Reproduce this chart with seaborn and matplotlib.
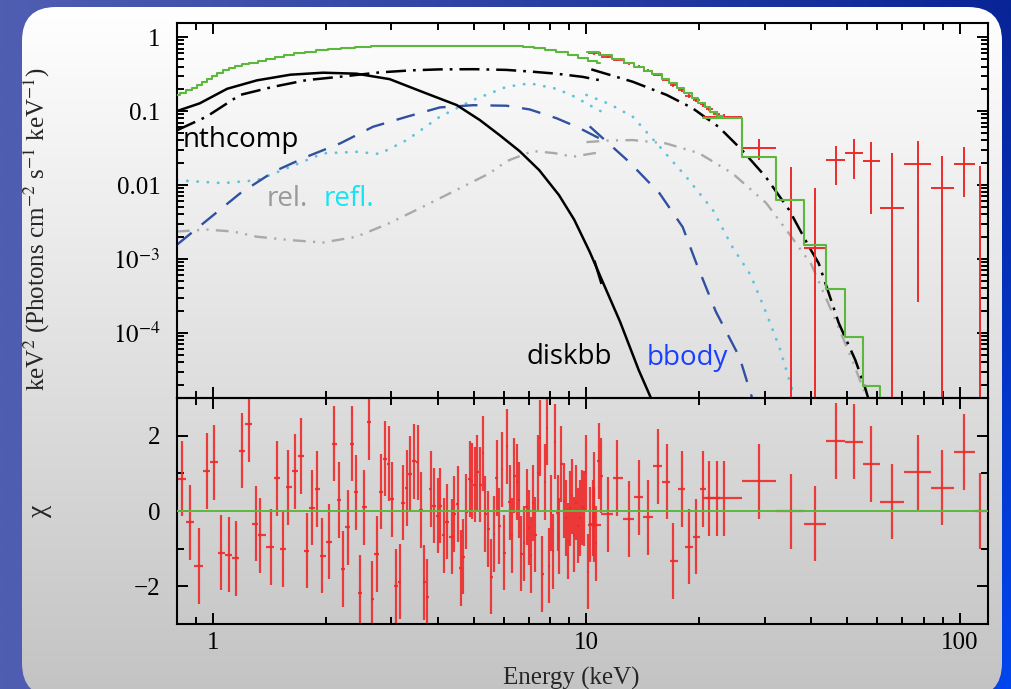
import numpy as np
import pandas as pd
import matplotlib
matplotlib.use("Agg")
import matplotlib.pyplot as plt
import seaborn as sns
from matplotlib.patches import FancyBboxPatch
from matplotlib.ticker import FixedLocator, FixedFormatter, LogLocator, MultipleLocator, NullFormatter

# ---------------- model components (E in keV, E^2 F) ----------------
nth1_e = [0.80, 0.96, 1.18, 1.45, 1.78, 2.19, 2.79, 3.4, 4.05, 5.0, 6.1, 7.18, 8.3, 9.76, 10.9]
nth1_v = [0.055, 0.084, 0.165, 0.213, 0.262, 0.291, 0.333, 0.355, 0.366, 0.368, 0.36, 0.34, 0.32, 0.29, 0.26]
nth2_e = [10.3, 13.3, 16.4, 19.2, 22.6, 26.1, 30.2, 34.9, 39.5, 41.9, 47.4, 52.5, 55.8, 58.5]
nth2_v = [0.366, 0.249, 0.165, 0.11, 0.061, 0.0296, 0.0129, 0.0046, 1.45e-3, 8.7e-4, 1.36e-4, 4.3e-5, 1.8e-5, 8e-6]

disk_e = [0.80, 0.92, 1.09, 1.31, 1.61, 1.97, 2.42, 2.97, 3.65, 4.49, 5.18, 5.85, 6.62, 7.47, 8.44, 9.27,
          10.2, 11.2, 12.3, 13.8, 14.9]
disk_v = [0.10, 0.127, 0.20, 0.26, 0.31, 0.33, 0.32, 0.27, 0.18, 0.1205, 0.0755, 0.0473, 0.0287, 0.0159,
          7.3e-3, 3.4e-3, 1.25e-3, 4.2e-4, 1.42e-4, 3.15e-5, 1.3e-5]
disk2_e = [10.5, 10.97]
disk2_v = [9.5e-4, 4.6e-4]

bb1_e = [0.80, 0.96, 1.18, 1.45, 1.78, 2.19, 2.68, 3.30, 4.05, 4.97, 6.11, 7.05, 8.31, 9.5, 10.9]
bb1_v = [1.56e-3, 3.3e-3, 7.7e-3, 0.0151, 0.0241, 0.0366, 0.0613, 0.0837, 0.112, 0.12, 0.118, 0.105, 0.08, 0.06, 0.042]
bb2_e = [10.2, 13.0, 15.7, 18.1, 19.7, 22.2, 25.7, 27.8]
bb2_v = [0.062, 0.0206, 7.7e-3, 2.7e-3, 8.7e-4, 1.95e-4, 4.7e-5, 1.3e-5]

refl1_e = [0.80, 1.06, 1.31, 1.61, 1.97, 2.42, 2.79, 3.30, 4.05, 4.97, 6.11, 7.05, 8.31, 9.2, 10.2, 10.9]
refl1_v = [0.0116, 0.0106, 0.0116, 0.0176, 0.0268, 0.0281, 0.0263, 0.0405, 0.084, 0.141, 0.213, 0.237, 0.20, 0.16, 0.12, 0.10]
refl2_e = [10.0, 11.5, 13.3, 15.7, 18.5, 21.8, 24.6, 27.5, 30.2, 32.9, 36.0]
refl2_v = [0.165, 0.125, 0.084, 0.033, 0.0129, 4.6e-3, 1.45e-3, 6.1e-4, 1.95e-4, 6.3e-5, 1.4e-5]

rel1_e = [0.80, 0.96, 1.13, 1.31, 1.61, 1.97, 2.42, 2.97, 3.65, 4.49, 5.5, 6.11, 7.18, 8.2, 9.2, 10.5, 10.9]
rel1_v = [2.35e-3, 2.5e-3, 2.35e-3, 2.0e-3, 1.8e-3, 1.67e-3, 2.0e-3, 3.06e-3, 5.1e-3, 8.6e-3, 0.0144, 0.021, 0.0288, 0.027, 0.0241, 0.027, 0.026]
rel2_e = [10.0, 11.5, 13.3, 16.3, 20.0, 24.6, 30.3, 34.9, 40.0, 45.6, 51.5, 55.8, 58.0]
rel2_v = [0.038, 0.040, 0.0405, 0.0366, 0.027, 0.0144, 5.7e-3, 2.2e-3, 8.5e-4, 1.85e-4, 4.3e-5, 1.5e-5, 8e-6]

# ---------------- total model (steps) ----------------
tot1_e = [0.80, 0.83, 0.86, 0.89, 0.92, 0.95, 0.98, 1.01, 1.04, 1.08, 1.12, 1.17, 1.22, 1.28, 1.35, 1.42,
          1.50, 1.60, 1.70, 1.82, 1.95, 2.1, 2.3, 2.5, 2.8, 3.2, 3.7, 4.3, 5.0, 5.8, 6.5, 7.0, 7.5, 8.0,
          8.6, 9.2, 9.8, 10.4, 10.9]
tot1_v = [0.165, 0.175, 0.19, 0.205, 0.225, 0.245, 0.27, 0.30, 0.33, 0.36, 0.385, 0.41, 0.43, 0.45, 0.47, 0.50,
          0.53, 0.57, 0.60, 0.63, 0.66, 0.69, 0.72, 0.74, 0.75, 0.755, 0.76, 0.76, 0.76, 0.76, 0.76, 0.74, 0.71, 0.665,
          0.62, 0.57, 0.52, 0.47, 0.44]
tot2_edges = [10.06, 10.8, 11.7, 12.6, 13.4, 14.3, 15.0, 15.9, 16.6, 17.5, 18.3, 19.2, 19.9, 20.8, 21.4, 22.3, 23.2]
tot2_v = [0.627, 0.57, 0.50, 0.45, 0.397, 0.35, 0.313, 0.268, 0.237, 0.203, 0.174, 0.148, 0.127, 0.112, 0.098, 0.085]
tot3_edges = [20.5, 26.1, 32.2, 38.2, 43.7, 49.2, 55.0, 61.2, 70.5]
tot3_v = [0.081, 0.024, 0.0063, 0.00155, 3.9e-4, 8.9e-5, 1.9e-5, 1e-7]

# ---------------- data: instrument 2 ----------------
d2_e = [10.5, 11.4, 12.1, 13.0, 13.8, 14.6, 15.5, 16.4, 17.1, 18.0, 18.8, 19.7, 20.5, 21.3, 22.3]
d2_flux = [0.60, 0.54, 0.49, 0.44, 0.40, 0.35, 0.31, 0.265, 0.225, 0.19, 0.16, 0.14, 0.123, 0.108, 0.092]
d2_ferr = [0.02, 0.02, 0.02, 0.018, 0.016, 0.015, 0.014, 0.012, 0.011, 0.01, 0.009, 0.008, 0.008, 0.007, 0.007]
d2_chi = [-0.36, -0.09, 0.88, -0.21, 0.36, -0.17, 1.19, 0.78, -1.33, 0.58, -0.95, -0.68, 0.58, 0.34, 0.34]

# ---------------- data: instrument 3 (wide bins) ----------------
d3_lo = [20.5, 26.1, 32.2, 38.2, 43.7, 49.2, 55.0, 61.2, 71.0, 83.6, 96.2, 110.0]
d3_hi = [26.1, 32.2, 38.2, 43.7, 49.2, 55.0, 61.2, 71.0, 83.6, 96.2, 110.0, 125.0]
d3_e = [23.3, 29.0, 35.2, 41.0, 46.5, 52.2, 58.0, 65.8, 77.2, 89.6, 102.5, 113.0]
d3_flux = [0.084, 0.0316, 0.0063, 0.0014, 0.0216, 0.0272, 0.0211, 0.0049, 0.0192, 0.0091, 0.0192, 2e-6]
d3_flo = [0.077, 0.0216, 1e-7, 1e-7, 0.010, 0.0121, 0.0041, 1e-7, 2.6e-4, 1e-7, 6.9e-3, 1e-7]
d3_fhi = [0.091, 0.0418, 0.0175, 0.0091, 0.0336, 0.0418, 0.038, 0.0271, 0.0394, 0.0247, 0.0326, 0.0182]
d3_chi = [0.34, 0.79, -0.01, -0.34, 1.86, 1.84, 1.25, 0.25, 1.03, 0.62, 1.57, 0.0]

# ---------------- residuals: instrument 1 ----------------
r1_e = [0.825, 0.868, 0.914, 0.96, 1.006, 1.05, 1.10, 1.15, 1.195, 1.246, 1.30, 1.336, 1.43, 1.48, 1.535,
        1.59, 1.66, 1.72, 1.78, 1.84, 1.90, 1.96, 2.04, 2.11, 2.17, 2.23, 2.29, 2.35, 2.42, 2.48, 2.54,
        2.61, 2.67, 2.74, 2.81, 2.88, 2.95, 3.01, 3.09, 3.16, 3.23, 3.30, 3.37, 3.45, 3.53, 3.60, 3.68,
        3.75, 3.83, 3.90, 3.99, 4.06, 4.14, 4.22, 4.35, 4.42, 4.52, 4.61, 4.66, 4.77, 4.86, 4.93, 5.02,
        5.10, 5.19, 5.29, 5.36, 5.46, 5.56, 5.65, 5.75, 5.84, 5.93, 6.03, 6.12, 6.22, 6.31, 6.41, 6.50,
        6.60, 6.69, 6.79, 6.91, 7.01, 7.11, 7.21, 7.30, 7.42, 7.51, 7.62, 7.73, 7.84, 7.95, 8.02, 8.14,
        8.25, 8.37, 8.45, 8.57, 8.72, 8.82, 8.93, 9.05, 9.14, 9.27, 9.39, 9.51, 9.63, 9.75, 9.87, 10.0,
        10.1, 10.25, 10.38, 10.49, 10.6, 10.77, 10.95]
r1_chi = [0.86, -0.30, -1.46, 1.06, 1.29, -1.11, -1.16, -1.26, 1.60, 2.30, -0.34, -0.65, -0.96, 0.87, -1.01,
          0.63, 1.05, 1.46, -1.05, 0.09, 0.58, -1.19, -0.81, 1.79, 0.29, -1.54, -0.43, 1.79, 0.50, -2.17, 0.10,
          2.36, -2.34, -1.14, 0.51, 1.39, 1.26, 0.31, -2.00, -1.88, 0.22, 0.61, 0.99, 1.32, 1.29, 0.03, -1.89,
          -2.27, 0.58, 0.14, -0.12, 0.14, -0.65, -0.28, -0.68, -0.08, 0.19, -1.51, -1.21, -0.02, 0.85, 0.80, 0.70,
          1.03, 0.70, 1.53, -0.08, -0.48, -1.74, -0.61, 0.88, -0.40, 1.11, -1.11, 1.72, 0.23, -0.65, 0.94, 0.77,
          0.29, -1.13, -0.86, 0.11, -0.44, -1.17, 0.21, -0.63, 1.02, 1.94, -1.67, 0.77, 2.21, -1.45, -0.05, -1.07,
          1.84, -0.05, -0.66, 1.25, 0.27, -0.19, -0.80, 0.07, 0.39, -0.63, 0.22, -0.39, -0.19, 0.10, 0.07, 1.03,
          -1.61, -0.35, -0.19, 0.57, -0.86, 1.33, 0.94]

# ---------------- axis tick labels ----------------
ylog_ticks = [1e-4, 1e-3, 1e-2, 0.1, 1]
ylog_labels = [r'$10^{-4}$', r'$10^{-3}$', '0.01', '0.1', '1']
x_ticks = [1, 10, 100]
x_labels = ['1', '10', '100']
chi_ticks = [-2, 0, 2]
chi_labels = ['\u22122', '0', '2']

RED = '#ee2a2a'
GREEN = '#5cb83c'

def edges_from_centers(e):
    e = np.asarray(e, float)
    mids = np.sqrt(e[:-1] * e[1:])
    lo = np.concatenate([[e[0] ** 2 / mids[0]], mids])
    hi = np.concatenate([mids, [e[-1] ** 2 / mids[-1]]])
    return lo, hi

sns.set_theme(style="ticks")
plt.rcParams['font.family'] = ['Liberation Serif', 'DejaVu Serif']
plt.rcParams['mathtext.fontset'] = 'stix'
plt.rcParams['axes.unicode_minus'] = True

W, H = 1011, 689
fig = plt.figure(figsize=(W / 100, H / 100), dpi=100)

# ---------------- background ----------------
bg = fig.add_axes([0, 0, 1, 1], zorder=-10)
gx = np.linspace(0, 1, 300)[None, :]
gy = np.linspace(0, 1, 200)[:, None]
left_c = np.array([80, 94, 178]) / 255
right_c = np.array([8, 36, 150]) / 255
corner_c = np.array([0, 70, 240]) / 255
img = left_c * (1 - gx[..., None]) + right_c * gx[..., None]
img = np.broadcast_to(img, (200, 300, 3)).copy()
wgt = (np.clip((gx - 0.8) / 0.2, 0, 1) * gy)[..., None]
img = img * (1 - wgt) + corner_c * wgt
bg.imshow(img, extent=(0, W, H, 0), aspect='auto', interpolation='bilinear')
panel = FancyBboxPatch((22, 7), 980, 690, boxstyle="round,pad=0,rounding_size=34",
                       transform=bg.transData, fc='none', ec='none')
bg.add_patch(panel)
pg = np.linspace(1.0, 0.765, 256)[:, None]
pimg = np.repeat(pg[..., None], 3, axis=2)
im = bg.imshow(pimg, extent=(22, 1002, 697, 7), aspect='auto', interpolation='bilinear')
im.set_clip_path(panel)
bg.set_xlim(0, W)
bg.set_ylim(H, 0)
bg.axis('off')

# ---------------- axes ----------------
x0, x1 = 177 / W, 988 / W
ax1 = fig.add_axes([x0, 1 - 398 / H, x1 - x0, (398 - 23) / H])
ax2 = fig.add_axes([x0, 1 - 624 / H, x1 - x0, (624 - 398) / H], sharex=ax1)
for ax in (ax1, ax2):
    ax.set_facecolor('none')
    ax.set_xscale('log')
ax1.set_yscale('log')

def curve(ax, e, v, color, ls, lw, cap='butt', z=2, steps=None):
    df = pd.DataFrame({'E': e, 'F': v})
    kw = dict(data=df, x='E', y='F', ax=ax, color=color, linewidth=lw, linestyle=ls,
              estimator=None, sort=False, legend=False, zorder=z)
    if steps:
        kw['drawstyle'] = steps
    else:
        kw['dash_capstyle'] = cap
        kw['solid_capstyle'] = cap
        kw['solid_joinstyle'] = 'round'
    sns.lineplot(**kw)

dd_nth = (0, (8, 2.8, 1.1, 2.8))
dd_bb = (0, (8, 5.5))
dd_rel = (0, (5.4, 3.1, 0.9, 3.1, 0.9, 3.1))
dd_refl = (0, (0.1, 3.6))

curve(ax1, rel1_e, rel1_v, '#a9a9a9', dd_rel, 1.7)
curve(ax1, rel2_e, rel2_v, '#a9a9a9', dd_rel, 1.7)
curve(ax1, refl1_e, refl1_v, '#5cc3dc', dd_refl, 2.0, cap='round')
curve(ax1, refl2_e, refl2_v, '#5cc3dc', dd_refl, 2.0, cap='round')
curve(ax1, bb1_e, bb1_v, '#3050a0', dd_bb, 1.7)
curve(ax1, bb2_e, bb2_v, '#3050a0', dd_bb, 1.7)
curve(ax1, disk_e, disk_v, 'black', '-', 1.8)
curve(ax1, disk2_e, disk2_v, 'black', '-', 1.8)
curve(ax1, nth1_e, nth1_v, 'black', dd_nth, 1.8)
curve(ax1, nth2_e, nth2_v, 'black', dd_nth, 1.8)

# data in the spectrum panel
d2_lo, d2_hi = edges_from_centers(d2_e)
ax1.errorbar(d2_e, d2_flux, yerr=d2_ferr, xerr=[np.array(d2_e) - d2_lo, d2_hi - np.array(d2_e)],
             fmt='none', ecolor=RED, elinewidth=1.3, zorder=3)
d3e = np.array(d3_e)
d3f = np.array(d3_flux)
ax1.errorbar(d3e, d3f, yerr=[d3f - np.array(d3_flo), np.array(d3_fhi) - d3f],
             xerr=[d3e - np.array(d3_lo), np.array(d3_hi) - d3e],
             fmt='none', ecolor=RED, elinewidth=1.4, zorder=3)

# total model
curve(ax1, tot1_e, tot1_v, GREEN, '-', 1.5, z=4, steps='steps-mid')
curve(ax1, tot2_edges, tot2_v + [tot2_v[-1]], GREEN, '-', 1.5, z=4, steps='steps-post')
curve(ax1, tot3_edges, tot3_v + [tot3_v[-1]], GREEN, '-', 1.5, z=4, steps='steps-post')

# residuals
r1_lo, r1_hi = edges_from_centers(r1_e)
r1e = np.array(r1_e)
ax2.errorbar(r1e, r1_chi, yerr=1.0, xerr=[r1e - r1_lo, r1_hi - r1e],
             fmt='none', ecolor=RED, elinewidth=1.6, alpha=0.9, zorder=2)
d2e = np.array(d2_e)
ax2.errorbar(d2e, d2_chi, yerr=1.0, xerr=[d2e - d2_lo, d2_hi - d2e],
             fmt='none', ecolor=RED, elinewidth=1.6, alpha=0.9, zorder=2)
ax2.errorbar(d3e, d3_chi, yerr=1.0, xerr=[d3e - np.array(d3_lo), np.array(d3_hi) - d3e],
             fmt='none', ecolor=RED, elinewidth=1.6, alpha=0.9, zorder=2)
ax2.axhline(0, color=GREEN, lw=1.4, zorder=3)

# limits
ax1.set_xlim(0.80, 119)
ax1.set_ylim(1.32e-5, 1.55)
ax2.set_ylim(-3, 3)

# ticks
for ax in (ax1, ax2):
    ax.xaxis.set_major_locator(FixedLocator(x_ticks))
    ax.xaxis.set_minor_locator(LogLocator(base=10, subs=np.arange(2, 10), numticks=20))
    ax.xaxis.set_minor_formatter(NullFormatter())
    ax.tick_params(which='both', direction='in', top=True, right=True, width=1.4, colors='black',
                   labelsize=18)
    ax.tick_params(which='major', length=8)
    ax.tick_params(which='minor', length=4.7)
    ax.tick_params(axis='y', pad=12)
    ax.tick_params(axis='x', pad=6)
    for s in ax.spines.values():
        s.set_linewidth(1.5)
        s.set_color('black')

ax1.yaxis.set_major_locator(FixedLocator(ylog_ticks))
ax1.yaxis.set_major_formatter(FixedFormatter(ylog_labels))
ax1.yaxis.set_minor_locator(LogLocator(base=10, subs=np.arange(2, 10), numticks=20))
ax1.yaxis.set_minor_formatter(NullFormatter())
ax1.tick_params(labelbottom=False)

ax2.xaxis.set_major_formatter(FixedFormatter(x_labels))
ax2.yaxis.set_major_locator(FixedLocator(chi_ticks))
ax2.yaxis.set_major_formatter(FixedFormatter(chi_labels))
ax2.yaxis.set_minor_locator(MultipleLocator(1))

ax1.set_xlabel('')
ax1.set_ylabel(r'keV$^2$ (Photons cm$^{-2}$ s$^{-1}$ keV$^{-1}$)', fontsize=18)
ax1.yaxis.set_label_coords(-0.154, 0.45)
ax2.set_ylabel('\u03c7', fontsize=20)
ax2.yaxis.set_label_coords(-0.154, 0.5)
ax2.set_xlabel('Energy (keV)', fontsize=18)
ax2.xaxis.set_label_coords(0.486, -0.19)

# annotations
afont = ['Open Sans', 'DejaVu Sans']
def note(px, py, s, color):
    fig.text(px / W, 1 - py / H, s, color=color, fontsize=20, family=afont, ha='left', va='baseline')

note(183, 147, 'nthcomp', 'black')
note(267, 206, 'rel.', '#999999')
note(324, 206, 'refl.', '#19e3f3')
note(526, 364, 'diskbb', 'black')
note(647, 365, 'bbody', '#1a40ff')

fig.savefig('out.png', dpi=100)
